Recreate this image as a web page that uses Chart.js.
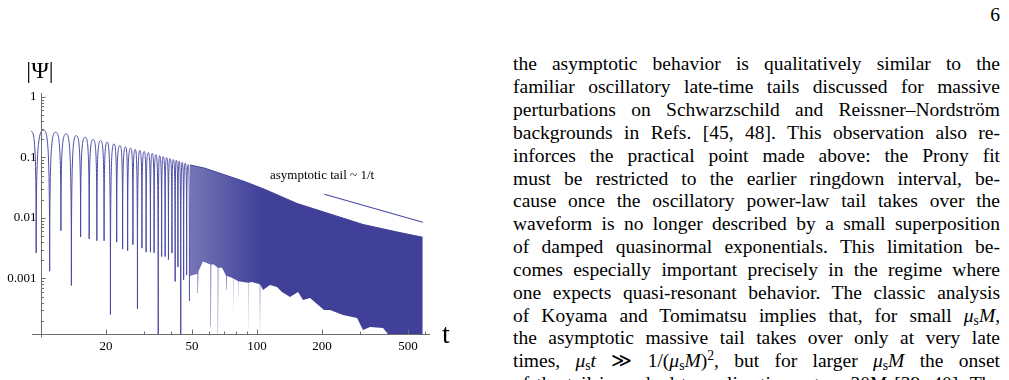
<!DOCTYPE html>
<html>
<head>
<meta charset="utf-8">
<title>|Psi| late-time tail</title>
<script src="https://cdn.jsdelivr.net/npm/chart.js@4.4.1/dist/chart.umd.min.js"></script>
<style>
  html, body { margin: 0; padding: 0; background: #fff; }
  body { width: 1009px; height: 380px; position: relative; overflow: hidden; }
  #plot { position: absolute; left: 0; top: 0; }
  #pagenum { position: absolute; right: 9px; top: 4px; font-family: "Liberation Serif", serif; font-size: 19.5px; line-height: 22.6px; }
  #page { position: absolute; left: 513px; top: 53.3px; width: 487px; font-family: "Liberation Serif", serif; font-size: 19.5px; line-height: 22.85px; color: #000; }
  #page div { text-align: justify; text-align-last: justify; height: 22.85px; }
  sub, sup { font-size: 70%; line-height: 0; }
  sub { vertical-align: -0.25em; }
  sup { vertical-align: 0.5em; }
</style>
</head>
<body>
<canvas id="plot" width="500" height="380"></canvas>
<div id="pagenum">6</div>
<div id="page">
  <div>the asymptotic behavior is qualitatively similar to the</div>
  <div>familiar oscillatory late-time tails discussed for massive</div>
  <div>perturbations on Schwarzschild and Reissner–Nordström</div>
  <div>backgrounds in Refs. [45, 48]. This observation also re-</div>
  <div>inforces the practical point made above: the Prony fit</div>
  <div>must be restricted to the earlier ringdown interval, be-</div>
  <div>cause once the oscillatory power-law tail takes over the</div>
  <div>waveform is no longer described by a small superposition</div>
  <div>of damped quasinormal exponentials. This limitation be-</div>
  <div>comes especially important precisely in the regime where</div>
  <div>one expects quasi-resonant behavior. The classic analysis</div>
  <div>of Koyama and Tomimatsu implies that, for small <i>μ</i><sub>s</sub><i>M</i>,</div>
  <div>the asymptotic massive tail takes over only at very late</div>
  <div>times, <i>μ</i><sub>s</sub><i>t</i> ≫ 1/(<i>μ</i><sub>s</sub><i>M</i>)<sup>2</sup>, but for larger <i>μ</i><sub>s</sub><i>M</i> the onset</div>
  <div>of the tail is pushed to earlier times, t ∼ 30M [39, 40]. The tail</div>
</div>
<script>
// ---- resolved lobes of |Psi| (peak / dip pairs) ----
const lobeT = [9.0, 9.51, 10.3, 10.98, 11.7, 12.38, 13.1, 13.84, 14.57, 15.27,
  16.04, 16.73, 17.46, 18.16, 18.9, 19.61, 20.28, 20.98, 21.78, 22.43,
  23.22, 23.89, 24.67, 25.2, 26.02, 26.66, 27.33, 27.98, 28.72, 29.35,
  30.08, 30.69, 31.39, 32.13, 32.75, 33.42, 34.07, 34.92, 35.44, 36.21,
  36.83, 37.58, 38.19, 38.94, 39.56, 40.42, 40.98, 41.82, 42.31, 43.08,
  43.68, 44.38, 45.1, 45.77, 46.56, 47.26, 48.07, 48.69];
const lobePsi = [0.271, 0.00264, 0.282, 0.00132, 0.261, 0.00617, 0.245, 0.000766, 0.229, 0.00485,
  0.216, 0.00453, 0.197, 0.00421, 0.190, 0.0042, 0.179, 0.000254, 0.167, 0.00398,
  0.157, 0.00305, 0.149, 0.00288, 0.142, 0.00361, 0.135, 0.000313, 0.130, 0.00317,
  0.125, 0.00272, 0.120, 0.00272, 0.116, 0.00266, 0.111, 0.0001, 0.107, 0.00231,
  0.103, 0.00231, 0.0993, 0.00206, 0.0955, 0.00264, 0.092, 0.000891, 0.0899, 0.00155,
  0.0865, 0.0001, 0.0833, 0.000955, 0.0802, 0.00114, 0.076, 0.000425];

// ---- dense oscillation band: upper envelope and lower edge ----
const envT = [48.96, 57.44, 71.1, 88.0, 108.9, 153.1, 217.8, 309.6, 444.7, 584.8];
const envPsi = [0.0752, 0.0663, 0.0514, 0.0398, 0.0296, 0.0174, 0.01165, 0.00781, 0.00587, 0.0048];

const floorT = [48.96, 53.0, 53.3, 53.6, 56.2, 60.9, 61.2, 61.5, 63.2, 65.8,
  66.0, 66.3, 68.9, 72.1, 72.4, 72.7, 75.0, 77.5, 77.7, 77.9,
  80.0, 81.7, 81.9, 82.1, 86.1, 91.0, 91.2, 91.4, 94.8, 103.0,
  103.3, 103.6, 106.6, 114.9, 123.8, 130.5, 142.2, 154.9, 163.3, 176.0,
  189.6, 204.3, 217.8, 250.1, 290.4, 309.6, 333.7, 383.1, 421.7, 584.8];
const floorPsi = [0.0011, 0.0012, 0.000575, 0.0013, 0.0019, 0.0017, 0.000158, 0.0017, 0.0017, 0.0015,
  0.0001, 0.0015, 0.0015, 0.0011, 0.000646, 0.0011, 0.00106, 0.001, 0.000234, 0.001,
  0.000944, 0.0009, 0.000441, 0.0009, 0.000875, 0.00085, 0.0001, 0.00085, 0.000875, 0.0008,
  0.0001, 0.0008, 0.000646, 0.000781, 0.000724, 0.000598, 0.000494, 0.000598, 0.000441, 0.000476,
  0.000379, 0.000302, 0.000302, 0.000249, 0.000222, 0.000141, 0.000158, 0.000152, 0.0001, 0.0001];

// ---- reference 1/t line ----
const tailT = [205, 585];
const tailPsi = [0.0246, 0.0085];

// ---- axes ----
const xMajor = [20, 50, 100, 200, 500];
const xMinor = [10, 30, 40, 60, 70, 80, 90, 300, 400, 600];
const yMajor = [1, 0.1, 0.01, 0.001];
const yLabels = ['1', '0.1', '0.01', '0.001'];
const tMin = 9, tMax = 632, psiMin = 1.21e-4, psiMax = 1.16;

const pts = (xs, ys) => xs.map((x, i) => ({ x: x, y: ys[i] }));

function bandFill(c) {
  const chart = c.chart;
  if (!chart.chartArea) return 'rgb(64,64,153)';
  const sx = chart.scales.x;
  const g = chart.ctx.createLinearGradient(sx.getPixelForValue(49), 0, sx.getPixelForValue(105), 0);
  g.addColorStop(0, 'rgba(64,64,153,0.72)');
  g.addColorStop(1, 'rgba(64,64,153,1)');
  return g;
}

const FONT = '"Liberation Serif", "Times New Roman", serif';

// round-topped arches with sharp dips: flat tangents at peaks, vertical at dips
const archShape = {
  id: 'archShape',
  beforeDatasetDraw(chart, args) {
    if (args.index !== 0) return;
    const line = args.meta.dataset;
    line.updateControlPoints(chart.chartArea, 'x');
    const p = args.meta.data;
    const k = 0.7, m = 0.9;
    for (let i = 0; i < p.length; i++) {
      const cur = p[i], prev = p[i - 1], next = p[i + 1];
      const isPeak = (!prev || prev.y > cur.y) && (!next || next.y > cur.y);
      if (isPeak) {
        cur.cp1x = prev ? cur.x - k * (cur.x - prev.x) : cur.x; cur.cp1y = cur.y;
        cur.cp2x = next ? cur.x + k * (next.x - cur.x) : cur.x; cur.cp2y = cur.y;
      } else {
        cur.cp1x = cur.x; cur.cp1y = prev ? cur.y - m * (cur.y - prev.y) : cur.y;
        cur.cp2x = cur.x; cur.cp2y = next ? cur.y - m * (cur.y - next.y) : cur.y;
      }
    }
    line._path = undefined;
  }
};

const mmaAxes = {
  id: 'mmaAxes',
  afterDraw(chart) {
    const ctx = chart.ctx;
    const a = chart.chartArea;
    const sx = chart.scales.x, sy = chart.scales.y;
    const x0 = Math.round(sx.getPixelForValue(10)) + 0.5;
    const y0 = Math.round(a.bottom) + 0.5;

    ctx.save();
    ctx.strokeStyle = '#6e6e6e';
    ctx.lineWidth = 1;
    ctx.beginPath();
    ctx.moveTo(a.left + 1, y0); ctx.lineTo(a.right, y0);
    ctx.moveTo(x0, a.top); ctx.lineTo(x0, y0 + 3);
    // x ticks (pointing up into the plot)
    xMajor.forEach(v => { const p = Math.round(sx.getPixelForValue(v)) + 0.5; ctx.moveTo(p, y0); ctx.lineTo(p, y0 - 5); });
    xMinor.forEach(v => { const p = Math.round(sx.getPixelForValue(v)) + 0.5; ctx.moveTo(p, y0); ctx.lineTo(p, y0 - 3); });
    // y ticks (pointing right)
    for (let k = -4; k <= 0; k++) {
      for (let m = 1; m <= 9; m++) {
        const v = m * Math.pow(10, k);
        if (v < psiMin || v > psiMax) continue;
        const p = Math.round(sy.getPixelForValue(v)) + 0.5;
        ctx.moveTo(x0, p); ctx.lineTo(x0 + (m === 1 ? 4 : 2.5), p);
      }
    }
    ctx.stroke();

    ctx.fillStyle = '#000';
    ctx.font = '13px ' + FONT;
    ctx.textAlign = 'center';
    ctx.textBaseline = 'middle';
    xMajor.forEach(v => ctx.fillText(String(v), sx.getPixelForValue(v), y0 + 12.5));
    ctx.textAlign = 'right';
    yMajor.forEach((v, i) => ctx.fillText(yLabels[i], x0 - 5, sy.getPixelForValue(v)));

    // axis labels
    ctx.font = '24px ' + FONT;
    ctx.textAlign = 'center';
    ctx.fillText('|Ψ|', 40, 72);
    ctx.font = '28px ' + FONT;
    ctx.textBaseline = 'alphabetic';
    ctx.fillText('t', 446, 343);

    // annotation
    ctx.font = '13px ' + FONT;
    ctx.textBaseline = 'middle';
    ctx.fillText('asymptotic tail ~ 1/t', sx.getPixelForValue(200), sy.getPixelForValue(0.0494));
    ctx.restore();
  }
};

new Chart(document.getElementById('plot'), {
  type: 'line',
  data: {
    datasets: [
      {
        data: pts(lobeT, lobePsi),
        borderColor: '#4a4aa6',
        borderWidth: 1,
        pointRadius: 0,
        cubicInterpolationMode: 'monotone',
        fill: false
      },
      {
        data: pts(envT, envPsi),
        borderColor: '#40409a',
        borderWidth: 1,
        pointRadius: 0,
        tension: 0,
        fill: 2,
        backgroundColor: bandFill
      },
      {
        data: pts(floorT, floorPsi),
        borderColor: 'rgba(0,0,0,0)',
        borderWidth: 0,
        pointRadius: 0,
        tension: 0,
        fill: false
      },
      {
        data: pts(tailT, tailPsi),
        borderColor: '#4a4aa8',
        borderWidth: 1.1,
        pointRadius: 0,
        fill: false
      }
    ]
  },
  options: {
    responsive: false,
    devicePixelRatio: 1,
    animation: false,
    layout: { padding: { left: 31, right: 70, top: 93, bottom: 46 } },
    plugins: { legend: { display: false }, tooltip: { enabled: false } },
    scales: {
      x: { type: 'logarithmic', min: tMin, max: tMax, display: false },
      y: { type: 'logarithmic', min: psiMin, max: psiMax, display: false }
    }
  },
  plugins: [archShape, mmaAxes]
});
</script>
</body>
</html>
